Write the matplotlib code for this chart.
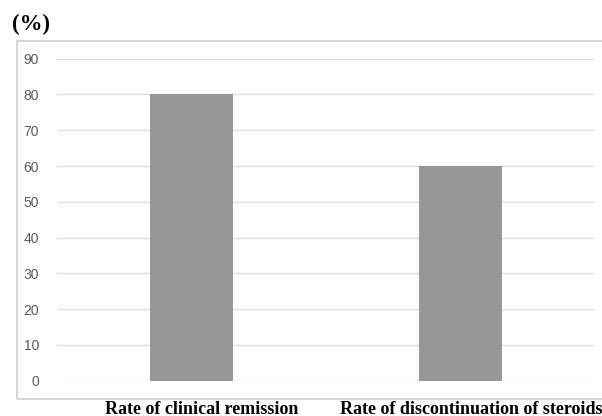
import matplotlib.pyplot as plt
from matplotlib.patches import Rectangle

categories = ['Rate of clinical remission', 'Rate of discontinuation of steroids']
values = [80, 60]
yticks = [0, 10, 20, 30, 40, 50, 60, 70, 80, 90]

W, H = 602, 416
fig = plt.figure(figsize=(W / 100, H / 100), dpi=100)

# outer chart frame (runs off the right edge like the source)
fig.patches.append(Rectangle((17 / W, 1 - 399 / H), 600 / W, (399 - 41) / H,
                             transform=fig.transFigure, fill=False,
                             edgecolor='#d0d0d0', lw=1.2))

ax = fig.add_axes([57 / W, 1 - 380.7 / H, (595 - 57) / W, (380.7 - 58.7) / H])
x = range(len(categories))
ax.bar(x, values, width=0.31, color='#979797', zorder=3)
ax.set_xlim(-0.5, 1.5)
ax.set_ylim(0, 90)
ax.set_yticks(yticks)
ax.set_yticklabels([str(v) for v in yticks], fontsize=10, color='#595959',
                   family='Liberation Sans')
ax.grid(axis='y', color='#dedede', lw=1, zorder=0)
ax.set_xticks([])
ax.tick_params(axis='y', length=0, pad=13)
for s in ax.spines.values():
    s.set_visible(False)
ax.set_facecolor('none')

fig.text(12 / W, 1 - 24 / H, '(%)', fontsize=16.5, fontweight='bold',
         family='Liberation Serif', va='center', ha='left')
fig.text(202 / W, 1 - 409 / H, categories[0], fontsize=13, fontweight='bold',
         family='Liberation Serif', va='center', ha='center')
fig.text(340 / W, 1 - 409 / H, categories[1], fontsize=13, fontweight='bold',
         family='Liberation Serif', va='center', ha='left')

fig.savefig('out.png', dpi=100)
